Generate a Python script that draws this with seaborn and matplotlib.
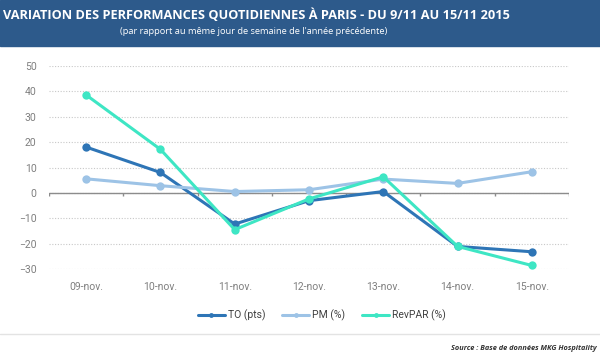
import numpy as np
import pandas as pd
import matplotlib.pyplot as plt
import seaborn as sns
from matplotlib.patches import Rectangle
from matplotlib.lines import Line2D

# Daily performance variation in Paris, 9/11 to 15/11 2015
days = ["09-nov.", "10-nov.", "11-nov.", "12-nov.", "13-nov.", "14-nov.", "15-nov."]
to_pts = [18.1, 8.1, -12.2, -3.0, 0.6, -21.0, -23.1]
pm_pct = [5.6, 2.9, 0.6, 1.3, 5.5, 3.8, 8.4]
revpar_pct = [38.6, 17.2, -14.4, -2.3, 6.4, -21.0, -28.5]
series_names = ["TO (pts)", "PM (%)", "RevPAR (%)"]
colors = ["#2e75b6", "#9dc3e6", "#3ee6c4"]

df = pd.DataFrame({"jour": days, series_names[0]: to_pts,
                   series_names[1]: pm_pct, series_names[2]: revpar_pct})
long_df = df.melt(id_vars="jour", var_name="serie", value_name="valeur")

sns.set_style("white")
plt.rcParams['font.family'] = ['Roboto', 'DejaVu Sans']
head_font = ["Open Sans", "DejaVu Sans"]

fig = plt.figure(figsize=(6, 3.59), dpi=100)
ax = fig.add_axes([49 / 600, 1 - 269.3 / 359, 520 / 600, (269.3 - 66) / 359])

# header band
fig.patches.append(Rectangle((0, 1 - 46 / 359), 1, 46 / 359, transform=fig.transFigure,
                             color="#2d5a8b", zorder=0))
fig.text(3 / 600, 1 - 15 / 359, "VARIATION DES PERFORMANCES QUOTIDIENNES À PARIS - DU 9/11 AU 15/11 2015",
         ha="left", va="center", color="white", fontsize=9.2, fontweight="bold", family=head_font)
fig.text(254 / 600, 1 - 31 / 359, "(par rapport au même jour de semaine de l'année précédente)",
         ha="center", va="center", color="white", fontsize=6.7, family=head_font)

sns.lineplot(data=long_df, x="jour", y="valeur", hue="serie", palette=colors,
             marker="o", markersize=6, markeredgewidth=0, linewidth=2.2,
             sort=False, legend=False, ax=ax, zorder=3)

ax.set_xlim(-0.5, len(days) - 0.5)
ax.set_ylim(-30, 50)
ax.set_yticks(np.arange(-30, 51, 10))
ax.set_xlabel("")
ax.set_ylabel("")
for s in ax.spines.values():
    s.set_visible(False)
ax.set_facecolor("none")
ax.grid(axis="y", linestyle=(0, (1, 1.5)), color="#c8c8c8", linewidth=0.8)
ax.grid(axis="x", visible=False)
ax.tick_params(axis="both", length=0, labelsize=7.5, labelcolor="#7f7f7f")
ax.tick_params(axis="y", pad=9)
ax.tick_params(axis="x", pad=9)

# zero line with category boundary ticks
ax.axhline(0, color="#8c8c8c", linewidth=1.0, zorder=2)
bounds = np.arange(len(days) + 1) - 0.5
ax.vlines(bounds, -1.2, 0, color="#8c8c8c", linewidth=1.0, zorder=2)

# legend
handles = [Line2D([0], [0], color=c, linewidth=2.2, marker="o", markersize=3.5,
                  markeredgewidth=0) for c in colors]
fig.legend(handles, series_names, loc="center", bbox_to_anchor=(322 / 600, 1 - 315 / 359),
           ncol=3, frameon=False, fontsize=7.5, handlelength=2.6, handletextpad=0.3,
           columnspacing=1.6, labelcolor="#404040")

# separator and source
fig.add_artist(Line2D([0, 1], [1 - 334 / 359, 1 - 334 / 359], transform=fig.transFigure,
                      color="#e3e3e3", linewidth=1.0))
fig.text(597 / 600, 1 - 349 / 359, "Source : Base de données MKG Hospitality",
         ha="right", va="center", fontsize=5.3, style="italic", fontweight="bold",
         color="#333333", family=head_font)

fig.savefig("out.png", dpi=100)
